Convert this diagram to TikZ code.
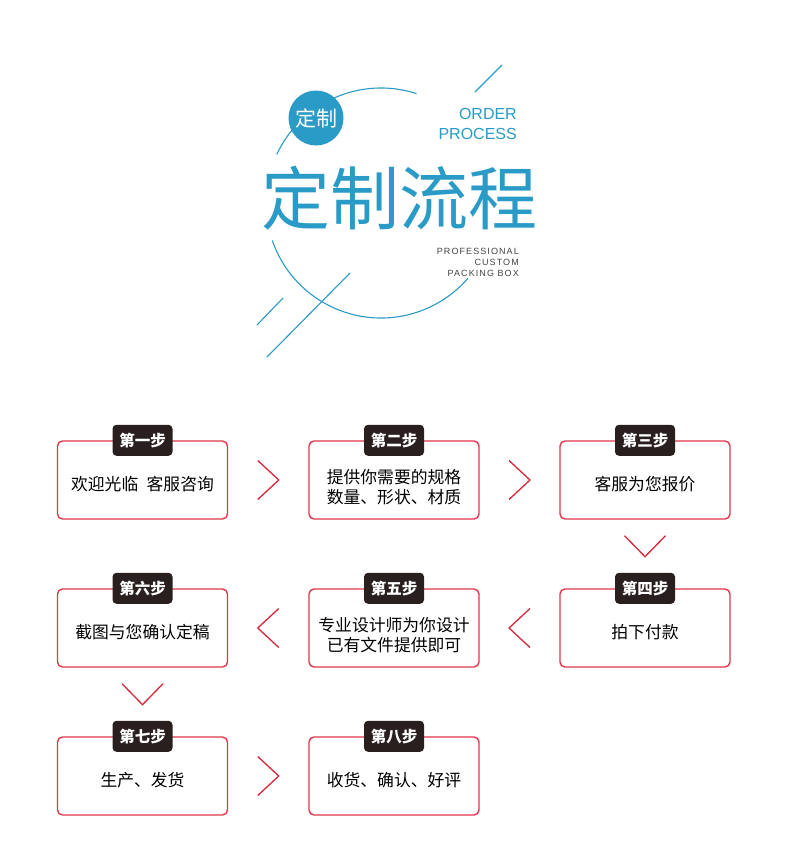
\documentclass[tikz,border=0pt]{standalone}
\usepackage{fontspec}
\setmainfont{Liberation Sans}
\newfontfamily\cjk{Noto Sans CJK SC}
\usetikzlibrary{calc}
\definecolor{tblue}{HTML}{2A9BC6}
\definecolor{bred}{HTML}{DE3A4C}
\definecolor{chev}{HTML}{D8263A}
\definecolor{lab}{HTML}{2A1F1F}
\definecolor{gtxt}{HTML}{444444}
\tikzset{
  stepbox/.style={draw=bred, line width=1.4pt, rounded corners=5pt, minimum width=170pt, minimum height=78pt, inner sep=0pt},
  steptext/.style={align=center, inner sep=0pt, font=\cjk\fontsize{16.8}{20}\selectfont, text=black},
  steplabel/.style={fill=lab, rounded corners=4pt, minimum width=60pt, minimum height=31pt, inner sep=0pt, text=white,
    font=\cjk\bfseries\fontsize{15.5}{16}\selectfont},
  chevron/.style={draw=chev, line width=1.3pt},
  deco/.style={draw=tblue, line width=1.1pt},
}
\begin{document}
\begin{tikzpicture}[x=1pt,y=-1pt]
\useasboundingbox[fill=white] (0,0) rectangle (790,843);
% header
\coordinate (O) at (381,203);
\draw[deco] (O) ++(-72:115) arc[start angle=-72, end angle=-155, radius=115];
\draw[deco] (O) ++(-199:115) arc[start angle=-199, end angle=-319, radius=115];
\coordinate (l1a) at (475,92); \coordinate (l1b) at (502,65);
\coordinate (l2a) at (350,273); \coordinate (l2b) at (267,357);
\coordinate (l3a) at (283,298); \coordinate (l3b) at (257,325);
\draw[deco] (l1a) -- (l1b);
\draw[deco] (l2a) -- (l2b);
\draw[deco] (l3a) -- (l3b);
\node[circle, fill=tblue, minimum size=55pt, inner sep=0pt, text=white, font=\cjk\fontsize{21}{21}\selectfont] (dz) at (316,118) {定制};
\node[anchor=east, text=tblue, font=\fontsize{16}{16}\selectfont, inner sep=0pt] (order) at (517,114) {ORDER};
\node[anchor=east, text=tblue, font=\fontsize{16}{16}\selectfont, inner sep=0pt] (process) at (517,134) {PROCESS};
\node[text=tblue, font=\cjk\fontsize{69}{69}\selectfont, inner sep=0pt] (title) at (399,198) {定制流程};
\node[anchor=east, text=gtxt, font=\addfontfeatures{LetterSpace=12}\fontsize{9}{9}\selectfont, inner sep=0pt] (p1) at (519,251) {PROFESSIONAL};
\node[anchor=east, text=gtxt, font=\addfontfeatures{LetterSpace=12}\fontsize{9}{9}\selectfont, inner sep=0pt] (p2) at (519,262) {CUSTOM};
\node[anchor=east, text=gtxt, font=\addfontfeatures{LetterSpace=12}\fontsize{9}{9}\selectfont, inner sep=0pt] (p3) at (519,273.5) {PACKING BOX};
% boxes
\node[stepbox] (b1) at (142.5,480) {};
\node[stepbox] (b2) at (394,480) {};
\node[stepbox] (b3) at (645,480) {};
\node[stepbox] (b4) at (645,628) {};
\node[stepbox] (b5) at (394,628) {};
\node[stepbox] (b6) at (142.5,628) {};
\node[stepbox] (b7) at (142.5,776) {};
\node[stepbox] (b8) at (394,776) {};
\node[steptext] (t1) at ([shift={(0,4)}]b1.center) {欢迎光临\hspace{0.5em}客服咨询};
\node[steptext] (t2) at ([shift={(0,7.5)}]b2.center) {提供你需要的规格\\数量、形状、材质};
\node[steptext] (t3) at ([shift={(0,4)}]b3.center) {客服为您报价};
\node[steptext] (t4) at ([shift={(0,4)}]b4.center) {拍下付款};
\node[steptext] (t5) at ([shift={(0,7)}]b5.center) {专业设计师为你设计\\已有文件提供即可};
\node[steptext] (t6) at ([shift={(0,4)}]b6.center) {截图与您确认定稿};
\node[steptext] (t7) at ([shift={(0,4)}]b7.center) {生产、发货};
\node[steptext] (t8) at ([shift={(0,4)}]b8.center) {收货、确认、好评};
\node[steplabel] (s1) at (b1.north) {第一步};
\node[steplabel] (s2) at (b2.north) {第二步};
\node[steplabel] (s3) at (b3.north) {第三步};
\node[steplabel] (s4) at (b4.north) {第四步};
\node[steplabel] (s5) at (b5.north) {第五步};
\node[steplabel] (s6) at (b6.north) {第六步};
\node[steplabel] (s7) at (b7.north) {第七步};
\node[steplabel] (s8) at (b8.north) {第八步};
% chevrons
\coordinate (c12) at ($(b1.east)!0.5!(b2.west)$);
\coordinate (c23) at ($(b2.east)!0.5!(b3.west)$);
\coordinate (c45) at ($(b5.east)!0.5!(b4.west)$);
\coordinate (c56) at ($(b6.east)!0.5!(b5.west)$);
\coordinate (c78) at ($(b7.east)!0.5!(b8.west)$);
\coordinate (c34) at (b3.south);
\coordinate (c67) at (b6.south);
\foreach \c in {c12,c23,c78}
  \draw[chevron] ([shift={(-10.5,-19.5)}]\c) -- ([shift={(10.5,0)}]\c) -- ([shift={(-10.5,19.5)}]\c);
\foreach \c in {c45,c56}
  \draw[chevron] ([shift={(10.5,-19.5)}]\c) -- ([shift={(-10.5,0)}]\c) -- ([shift={(10.5,19.5)}]\c);
\foreach \c in {c34,c67}
  \draw[chevron] ([shift={(-20.5,16)}]\c) -- ([shift={(0,37)}]\c) -- ([shift={(20.5,16)}]\c);
\end{tikzpicture}
\end{document}
